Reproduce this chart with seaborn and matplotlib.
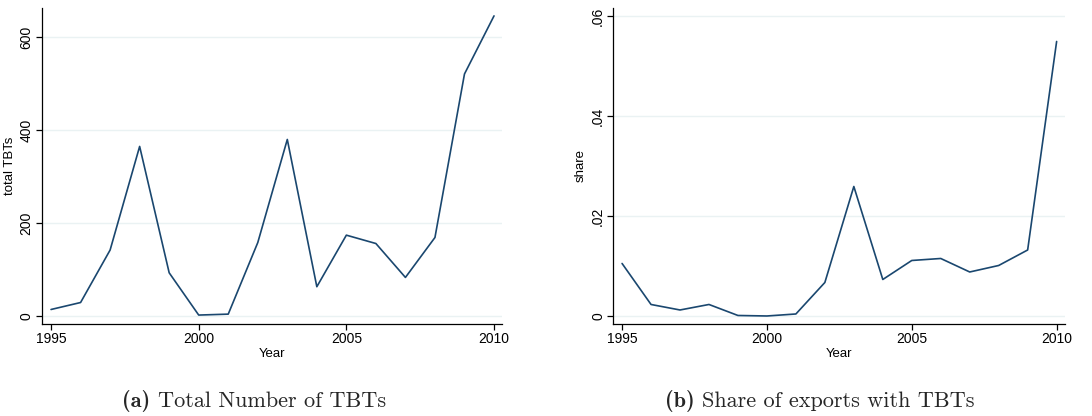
import matplotlib
matplotlib.use("Agg")
import matplotlib.pyplot as plt
import seaborn as sns
import pandas as pd

years = list(range(1995, 2011))
total_tbts = [14, 29, 142, 365, 93, 2, 4, 158, 380, 63, 174, 156, 83, 169, 521, 646]
share = [0.0105, 0.0023, 0.0012, 0.0023, 0.0001, 0.0, 0.0004, 0.0067, 0.0259,
         0.0073, 0.0111, 0.0115, 0.0088, 0.0101, 0.0132, 0.0549]
y_ticks_a = [0, 200, 400, 600]
y_ticks_b = [0, 0.02, 0.04, 0.06]
y_ticklabels_b = ["0", ".02", ".04", ".06"]
x_ticks = [1995, 2000, 2005, 2010]
captions = [("(a)", "Total Number of TBTs"), ("(b)", "Share of exports with TBTs")]

sns.set_theme(style="white")
plt.rcParams["font.family"] = ["Liberation Sans", "DejaVu Sans"]

df = pd.DataFrame({"Year": years, "total TBTs": total_tbts, "share": share})

fig = plt.figure(figsize=(10.92, 4.16), dpi=100)
ax1 = fig.add_axes([0.0385, 0.2212, 0.4212, 0.7596])
ax2 = fig.add_axes([0.5617, 0.2212, 0.4136, 0.7596])

line_color = "#1a476f"
grid_color = "#eaf2f3"

for ax, col, yt, ytl, xlim, ylim in [
    (ax1, "total TBTs", y_ticks_a, [str(v) for v in y_ticks_a], (1994.695, 2010.27), (-17.2, 663)),
    (ax2, "share", y_ticks_b, y_ticklabels_b, (1994.70, 2010.29), (-0.0016, 0.0616)),
]:
    sns.lineplot(data=df, x="Year", y=col, ax=ax, color=line_color, linewidth=1.2)
    ax.set_xlim(*xlim)
    ax.set_ylim(*ylim)
    ax.set_xticks(x_ticks)
    ax.set_xticklabels([str(v) for v in x_ticks], fontsize=10)
    ax.set_yticks(yt)
    ax.set_yticklabels(ytl, fontsize=10, rotation=90, va="center")
    ax.yaxis.grid(True, color=grid_color, linewidth=1.0)
    ax.xaxis.grid(False)
    for s in ["top", "right"]:
        ax.spines[s].set_visible(False)
    for s in ["left", "bottom"]:
        ax.spines[s].set_color("black")
        ax.spines[s].set_linewidth(0.9)
    ax.tick_params(axis="both", which="both", direction="out", length=4, width=0.9,
                   color="black", labelcolor="black", pad=2, bottom=True, left=True)
    ax.set_xlabel("Year", fontsize=9.5, labelpad=1, color="black")
    ax.set_ylabel(col, fontsize=9.5, labelpad=3, color="black")

for (lab, txt), xc in zip(captions, [254, 820]):
    fx = xc / 1092
    fig.text(fx, 1 - 401 / 416, lab + " ", fontsize=16, family="cmb10",
             ha="right", va="center")
    fig.text(fx, 1 - 401 / 416, txt, fontsize=16, family="cmr10", ha="left", va="center")

# shift caption pairs so the pair is centered
fig.canvas.draw()
r = fig.canvas.get_renderer()
texts = fig.texts
for i in range(0, len(texts), 2):
    a, b = texts[i], texts[i + 1]
    wa = a.get_window_extent(r).width
    wb = b.get_window_extent(r).width
    x0 = a.get_position()[0] * 1092
    left = x0 - (wa + wb) / 2
    a.set_position(((left + wa) / 1092, a.get_position()[1]))
    b.set_position(((left + wa) / 1092, b.get_position()[1]))

fig.savefig("out.png", dpi=100)
